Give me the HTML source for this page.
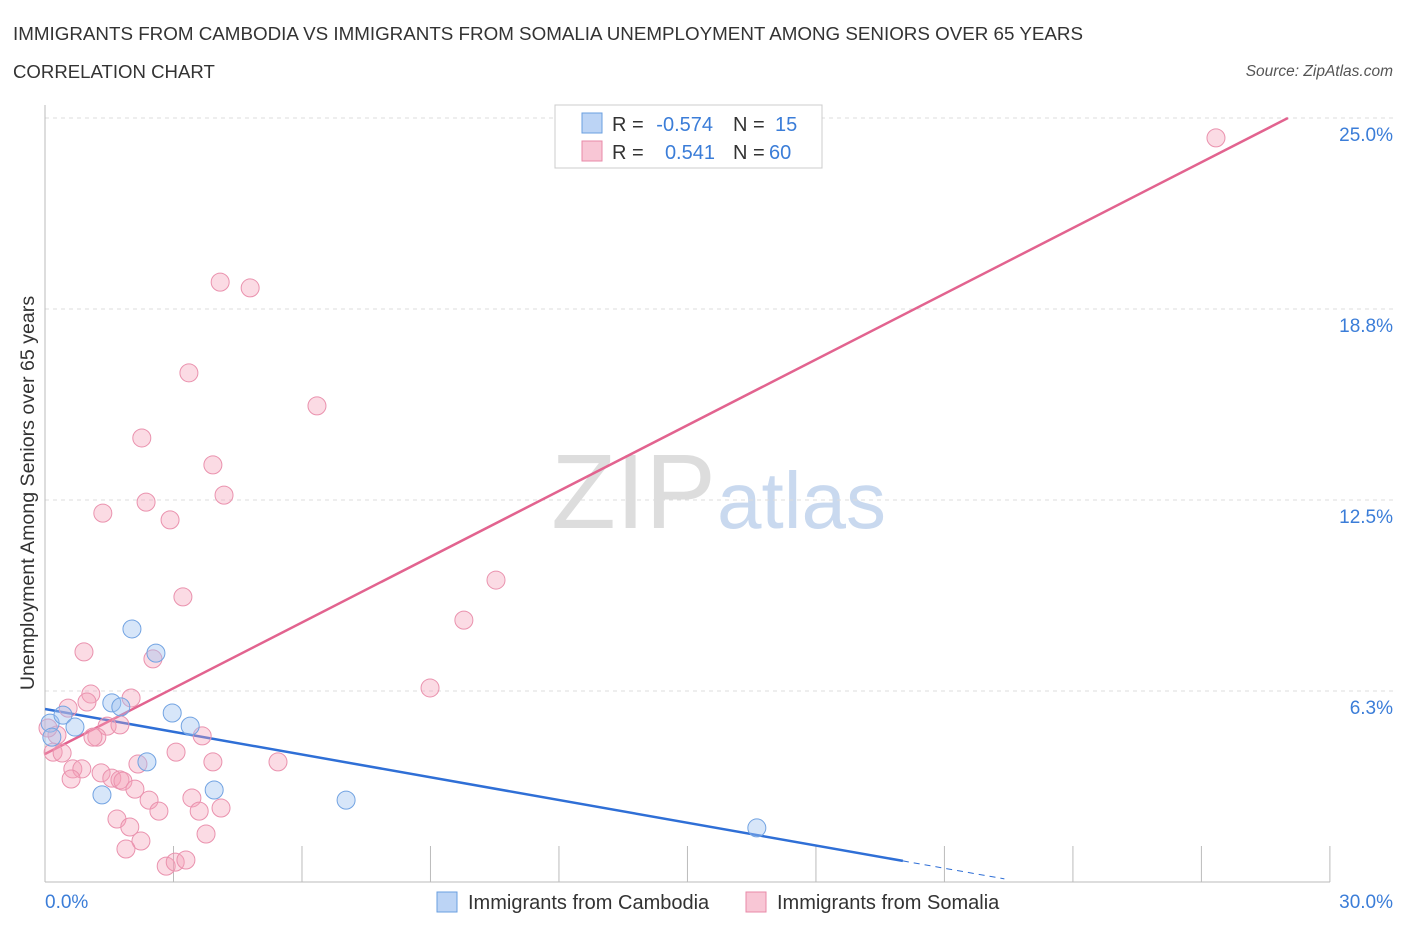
<!DOCTYPE html>
<html><head><meta charset="utf-8"><style>
body{margin:0;background:#fff;font-family:"Liberation Sans",sans-serif}
svg text{font-family:"Liberation Sans",sans-serif}
</style></head><body>
<svg id="chart" width="1406" height="930" xmlns="http://www.w3.org/2000/svg">
<text x="13" y="40" font-size="18.8" fill="#333">IMMIGRANTS FROM CAMBODIA VS IMMIGRANTS FROM SOMALIA UNEMPLOYMENT AMONG SENIORS OVER 65 YEARS</text>
<text x="13" y="78" font-size="18.6" fill="#333">CORRELATION CHART</text>
<text x="1393" y="76" font-size="15.5" fill="#555" text-anchor="end" font-style="italic">Source: ZipAtlas.com</text>
<text x="716" y="528" font-size="106" text-anchor="end" fill="#ddd" font-family="Liberation Serif">ZIP</text>
<text x="717" y="528" font-size="80" fill="#c9d9ef">atlas</text>
<g id="grid"></g><g id="axes"></g><g id="lines"></g><g id="pts"></g>
<text transform="translate(34,493) rotate(-90)" font-size="19.6" fill="#333" text-anchor="middle">Unemployment Among Seniors over 65 years</text>
<text x="45" y="908" font-size="19" fill="#3b7dd8">0.0%</text>
<text x="1393" y="908" font-size="19" fill="#3b7dd8" text-anchor="end">30.0%</text>
<g>
<rect x="555" y="105" width="267" height="63" fill="#fff" stroke="#ccc"/>
<rect x="582" y="113" width="20" height="20" fill="#bcd4f5" stroke="#6a9fe0"/>
<rect x="582" y="141" width="20" height="20" fill="#f8c6d5" stroke="#e88aa8"/>
<text x="612" y="131" font-size="20" fill="#333">R =</text>
<text x="713" y="131" font-size="20" fill="#3b7dd8" text-anchor="end">-0.574</text>
<text x="733" y="131" font-size="20" fill="#333">N =</text>
<text x="775" y="131" font-size="20" fill="#3b7dd8">15</text>
<text x="612" y="159" font-size="20" fill="#333">R =</text>
<text x="715" y="159" font-size="20" fill="#3b7dd8" text-anchor="end">0.541</text>
<text x="733" y="159" font-size="20" fill="#333">N =</text>
<text x="769" y="159" font-size="20" fill="#3b7dd8">60</text>
</g>
<g>
<rect x="437" y="892" width="20" height="20" fill="#bcd4f5" stroke="#6a9fe0"/>
<text x="468" y="909" font-size="20" fill="#333">Immigrants from Cambodia</text>
<rect x="746" y="892" width="20" height="20" fill="#f8c6d5" stroke="#e88aa8"/>
<text x="777" y="909" font-size="20" fill="#333">Immigrants from Somalia</text>
</g>
</svg>
<script>
const yTicks=[6.25,12.5,18.75,25];
const yTickLabels=["6.3%","12.5%","18.8%","25.0%"];
const xTicks=[0,3,6,9,12,15,18,21,24,27,30];
const camX=[2.03,2.59,1.56,1.77,2.97,3.39,2.38,1.33,3.95,7.03,16.62,0.12,0.42,0.70,0.16];
const camY=[8.28,7.49,5.86,5.73,5.53,5.10,3.93,2.85,3.01,2.68,1.77,5.20,5.46,5.07,4.74];
const somX=[27.34,4.09,4.79,3.36,6.35,2.26,3.92,4.18,2.36,1.35,2.92,3.22,10.53,9.78,0.91,8.99,5.44,2.52,1.07,0.98,2.01,0.54,1.45,1.75,1.21,1.12,3.67,0.28,0.19,0.40,3.06,3.92,2.17,0.65,0.86,0.61,1.31,1.56,1.75,1.82,2.10,3.43,2.43,2.66,3.60,4.11,1.68,1.98,3.76,2.24,1.89,2.83,3.04,3.29,0.07];
const somY=[24.35,19.63,19.44,16.66,15.58,14.53,13.65,12.66,12.43,12.07,11.85,9.33,9.88,8.57,7.53,6.35,3.93,7.30,6.15,5.89,6.02,5.69,5.10,5.14,4.74,4.74,4.78,4.81,4.25,4.22,4.25,3.93,3.86,3.70,3.70,3.37,3.57,3.40,3.34,3.30,3.04,2.75,2.68,2.32,2.32,2.42,2.06,1.80,1.57,1.34,1.08,0.52,0.65,0.72,5.04];
const camTrend=[0,5.66,20.03,0.69,22.4];
const somTrend=[0,4.19,29.02,25.0];
const NS="http://www.w3.org/2000/svg";
const X=v=>45+v*42.83, Y=v=>882-v*30.56;
function mk(t,a,p){const e=document.createElementNS(NS,t);for(const k in a)e.setAttribute(k,a[k]);document.getElementById(p).appendChild(e);return e;}
yTicks.forEach((t,i)=>{
 const l=mk('line',{x1:45,x2:1393,y1:Y(t),y2:Y(t),stroke:'#ddd','stroke-dasharray':'4,4'},'grid');
 
 
 const tx=mk('text',{x:1393,y:Y(t)+23,'font-size':19,fill:'#3b7dd8','text-anchor':'end'},'grid');
 tx.textContent=yTickLabels[i];
 
 
});
const ax=mk('line',{x1:45,x2:1330,y1:882,y2:882,stroke:'#bbb'},'axes');


const ay=mk('line',{x1:45,x2:45,y1:105,y2:882,stroke:'#bbb'},'axes');


xTicks.forEach(t=>{
 const l=mk('line',{x1:X(t),x2:X(t),y1:846,y2:882,stroke:'#bbb'},'axes');
 
 
});
let l1=mk('line',{x1:X(camTrend[0]),y1:Y(camTrend[1]),x2:X(camTrend[2]),y2:Y(camTrend[3]),stroke:'#2f6fd6','stroke-width':2.5},'lines');


let slope=(camTrend[3]-camTrend[1])/(camTrend[2]-camTrend[0]);
let l2=mk('line',{x1:X(camTrend[2]),y1:Y(camTrend[3]),x2:X(camTrend[4]),y2:Y(camTrend[1]+slope*camTrend[4]),stroke:'#2f6fd6','stroke-width':1,'stroke-dasharray':'6,5'},'lines');


let l3=mk('line',{x1:X(somTrend[0]),y1:Y(somTrend[1]),x2:X(somTrend[2]),y2:Y(somTrend[3]),stroke:'#e2638f','stroke-width':2.5},'lines');


somX.forEach((x,i)=>{
 const c=mk('circle',{cx:X(x),cy:Y(somY[i]),r:9,fill:'rgba(244,160,185,0.38)',stroke:'#ea92ae','stroke-width':1},'pts');
 
 
});
camX.forEach((x,i)=>{
 const c=mk('circle',{cx:X(x),cy:Y(camY[i]),r:9,fill:'rgba(160,196,240,0.42)',stroke:'#72a3e2','stroke-width':1},'pts');
 
 
});
</script>
</body></html>
